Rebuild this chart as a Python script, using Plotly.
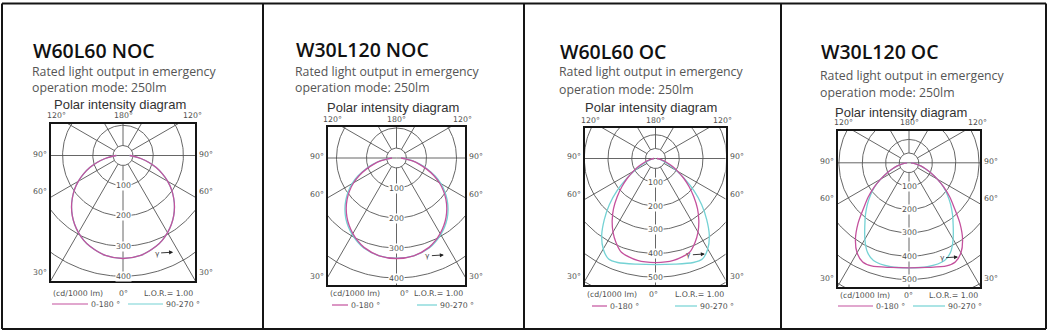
import numpy as np
import plotly.graph_objects as go

W, H = 1050, 331

# ---------------------------------------------------------------- data
# gamma angles (degrees from nadir) at which the intensities are given
GAMMA = [0, 10, 20, 25, 30, 35, 40, 45, 50, 55, 60, 65, 70, 75, 80, 85, 90]

TITLES = ["W60L60 NOC", "W30L120 NOC", "W60L60 OC", "W30L120 OC"]
SUBTITLE_1 = "Rated light output in emergency"
SUBTITLE_2 = "operation mode: 250lm"
DIAGRAM_TITLE = "Polar intensity diagram"
PLANE_LABELS = ["0-180 °", "90-270 °"]
UNIT_LABEL = "(cd/1000 lm)"
LOR_LABEL = "L.O.R.= 1.00"

# luminous intensity, cd/1000 lm, C0-C180 plane and C90-C270 plane
W60L60_NOC_C0 = [341, 336, 320, 309, 295, 279, 261, 241, 219, 196, 171, 144, 117, 89, 62, 38, 22]
W60L60_NOC_C90 = [341, 336, 320, 309, 295, 279, 261, 241, 219, 196, 171, 144, 117, 89, 62, 38, 22]

W30L120_NOC_C0 = [335, 331, 317, 305, 291, 275, 257, 237, 215, 191, 165, 136, 106, 78, 52, 30, 15]
W30L120_NOC_C90 = [334, 331, 319, 308, 295, 280, 263, 243, 221, 197, 171, 142, 111, 82, 55, 32, 16]

W60L60_OC_C0 = [438, 436, 420, 392, 358, 318, 275, 228, 185, 145, 108, 78, 52, 33, 20, 12, 6]
W60L60_OC_C90 = [447, 452, 466, 467, 440, 395, 335, 275, 212, 150, 100, 65, 40, 26, 17, 10, 6]

W30L120_OC_C0 = [450, 455, 470, 469, 445, 400, 340, 275, 228, 182, 140, 105, 75, 52, 32, 18, 8]
W30L120_OC_C90 = [450, 452, 445, 422, 378, 330, 290, 252, 215, 180, 140, 105, 74, 52, 32, 18, 8]

SERIES = [
    (W60L60_NOC_C0, W60L60_NOC_C90),
    (W30L120_NOC_C0, W30L120_NOC_C90),
    (W60L60_OC_C0, W60L60_OC_C90),
    (W30L120_OC_C0, W30L120_OC_C90),
]

RING_TICKS = [
    [100, 200, 300, 400],
    [100, 200, 300, 400],
    [100, 200, 300, 400, 500],
    [100, 200, 300, 400, 500],
]
SPOKE_STEP = 30  # degrees between radial grid lines

# ---------------------------------------------------------------- layout (pixels)
PANELS = [
    dict(box=(51, 195, 124, 281), origin=(123, 155.5), s=0.302, hub=33,
         title=(31, 50.5), sub=(30, 71, 87.5), diag=(119.5, 104.5),
         zero_x=123, bottom_y=293, legend_y=304,
         leg0=(52, 88), leg1=(128, 163), gamma_head=(166, -320)),
    dict(box=(328, 465, 127, 285), origin=(396.5, 158), s=0.300, hub=33,
         title=(294, 50), sub=(293, 71, 87.5), diag=(393, 108),
         zero_x=404, bottom_y=293.5, legend_y=305,
         leg0=(332, 348), leg1=(417, 437), gamma_head=(158, -323)),
    dict(box=(585, 725.5, 128, 285), origin=(655.5, 158.5), s=0.2375, hub=42,
         title=(558, 51.5), sub=(557, 72, 89), diag=(651, 108),
         zero_x=653, bottom_y=294, legend_y=306,
         leg0=(592, 607), leg1=(675, 697), gamma_head=(208, -402)),
    dict(box=(838, 980, 130.5, 287), origin=(909, 162.8), s=0.2335, hub=42,
         title=(819, 51.5), sub=(818, 76, 92.5), diag=(901, 112),
         zero_x=908, bottom_y=295, legend_y=306,
         leg0=(838, 873), leg1=(913, 945), gamma_head=(210, -403)),
]

C0_COLOR = "#c4519d"
C90_COLOR = "#74d2d4"
GRID_COLOR = "#555555"
LABEL_COLOR = "#505050"
SMALL_FONT = dict(family="DejaVu Sans", size=7.8, color=LABEL_COLOR)


def px(x):
    return x / W


def py(y):
    return 1 - y / H


def paper_text(x, y, text, font, xanchor="left"):
    return dict(x=px(x), y=py(y), xref="paper", yref="paper", text=text,
                showarrow=False, xanchor=xanchor, yanchor="middle", font=font)


def polar_curve(gamma, values):
    """Both halves of a C-plane: left half mirrored from the right half."""
    g = np.radians(np.array(gamma, dtype=float))
    v = np.array(values, dtype=float)
    g_full = np.concatenate([-g[::-1], g[1:]])
    v_full = np.concatenate([v[::-1], v[1:]])
    return v_full * np.sin(g_full), -v_full * np.cos(g_full)


def ring_grid(radii):
    t = np.linspace(0, 2 * np.pi, 241)
    xs, ys = [], []
    for r in radii:
        xs += list(r * np.sin(t)) + [None]
        ys += list(r * np.cos(t)) + [None]
    return xs, ys


def spoke_grid(hub, reach):
    xs, ys = [], []
    for a in range(0, 360, SPOKE_STEP):
        ar = np.radians(a)
        dx, dy = np.sin(ar), -np.cos(ar)
        start = 0 if a in (90, 270) else hub
        xs += [start * dx, reach * dx, None]
        ys += [start * dy, reach * dy, None]
    return xs, ys


fig = go.Figure()
annotations = []
shapes = []
layout_axes = {}

for i, (p, (c0, c90), ticks, title) in enumerate(zip(PANELS, SERIES, RING_TICKS, TITLES)):
    n = "" if i == 0 else str(i + 1)
    xa, ya = "x" + n, "y" + n
    x0, x1, y0, y1 = p["box"]
    ox, oy = p["origin"]
    s = p["s"]

    layout_axes["xaxis" + n] = dict(
        domain=[px(x0), px(x1)], range=[(x0 - ox) / s, (x1 - ox) / s],
        anchor=ya, showgrid=False, zeroline=False, showticklabels=False,
        ticks="", showline=True, mirror=True, linecolor="#151515", linewidth=2,
        fixedrange=True)
    layout_axes["yaxis" + n] = dict(
        domain=[py(y1), py(y0)], range=[(oy - y1) / s, (oy - y0) / s],
        anchor=xa, showgrid=False, zeroline=False, showticklabels=False,
        ticks="", showline=True, mirror=True, linecolor="#151515", linewidth=2,
        fixedrange=True)

    # polar grid: hub circle, intensity rings and radial lines
    step = ticks[1] - ticks[0]
    rx, ry = ring_grid([p["hub"]] + [step * k for k in range(1, 8)])
    fig.add_trace(go.Scatter(x=rx, y=ry, xaxis=xa, yaxis=ya, mode="lines",
                             line=dict(color=GRID_COLOR, width=0.9),
                             hoverinfo="skip", showlegend=False))
    sx, sy = spoke_grid(p["hub"], step * 10)
    fig.add_trace(go.Scatter(x=sx, y=sy, xaxis=xa, yaxis=ya, mode="lines",
                             line=dict(color=GRID_COLOR, width=0.9),
                             hoverinfo="skip", showlegend=False))

    # intensity curves
    for vals, color, name in ((c90, C90_COLOR, PLANE_LABELS[1]),
                              (c0, C0_COLOR, PLANE_LABELS[0])):
        cx, cy = polar_curve(GAMMA, vals)
        fig.add_trace(go.Scatter(x=cx, y=cy, xaxis=xa, yaxis=ya, mode="lines",
                                 line=dict(color=color, width=1.3, shape="spline",
                                           smoothing=0.8),
                                 name=name, showlegend=False))

    # ring value labels on the nadir axis
    for r in ticks:
        annotations.append(dict(x=0, y=-r, xref=xa, yref=ya, text=str(r),
                                showarrow=False, font=SMALL_FONT,
                                xanchor="center", yanchor="middle",
                                bgcolor="white", borderpad=0))

    # gamma indicator
    gx, gy = p["gamma_head"]
    annotations.append(dict(x=gx, y=gy, xref=xa, yref=ya, text="γ",
                            showarrow=True, arrowhead=2, arrowsize=0.9,
                            arrowwidth=0.9, arrowcolor="#222", ax=-16, ay=1,
                            font=dict(family="DejaVu Sans", size=7.5, color=LABEL_COLOR)))

    # angle labels round the frame
    top_y = y0 - 8
    for text, x in (("120°", x0 + 5), ("180°", ox), ("120°", x1 - 3)):
        annotations.append(paper_text(x, top_y, text, SMALL_FONT, "center"))
    for text, yy in (("90°", oy - 1.5), ("60°", oy + 36), ("30°", y1 - 9)):
        annotations.append(paper_text(x0 - 2, yy, text, SMALL_FONT, "right"))
        annotations.append(paper_text(x1 + 2, yy, text, SMALL_FONT, "left"))

    # footer: unit, nadir, L.O.R.
    by = p["bottom_y"]
    annotations.append(paper_text(x0, by, UNIT_LABEL, SMALL_FONT, "left"))
    annotations.append(paper_text(p["zero_x"], by, "0°", SMALL_FONT, "center"))
    annotations.append(paper_text(x1, by, LOR_LABEL, SMALL_FONT, "right"))

    # plane key
    ly = p["legend_y"]
    for (lx0, lx1), color, text in ((p["leg0"], C0_COLOR, PLANE_LABELS[0]),
                                    (p["leg1"], C90_COLOR, PLANE_LABELS[1])):
        shapes.append(dict(type="line", xref="paper", yref="paper",
                           x0=px(lx0), x1=px(lx1), y0=py(ly), y1=py(ly),
                           line=dict(color=color, width=1.2)))
        annotations.append(paper_text(lx1 + 0.5, ly, text, SMALL_FONT, "left"))

    # headings
    tx, ty = p["title"]
    annotations.append(paper_text(tx, ty, title,
                                  dict(family="Open Sans", size=19.5, weight=600,
                                       color="#111111")))
    sxp, s1, s2 = p["sub"]
    for text, yy in ((SUBTITLE_1, s1), (SUBTITLE_2, s2)):
        annotations.append(paper_text(sxp, yy, text,
                                      dict(family="Open Sans", size=12.3,
                                           color="#555555")))
    dx_, dy_ = p["diag"]
    annotations.append(paper_text(dx_, dy_, DIAGRAM_TITLE,
                                  dict(family="Liberation Sans", size=13,
                                       color="#333333"), "center"))

# table rules
TABLE_LINE = dict(color="#151515", width=2)
for x in (2, 263, 524, 781, 1046):
    shapes.append(dict(type="line", xref="paper", yref="paper", x0=px(x), x1=px(x),
                       y0=py(3.5), y1=py(329), line=TABLE_LINE))
for y in (3.5, 329):
    shapes.append(dict(type="line", xref="paper", yref="paper", x0=px(2), x1=px(1046),
                       y0=py(y), y1=py(y), line=TABLE_LINE))

fig.update_layout(
    width=W, height=H, autosize=False,
    margin=dict(l=0, r=0, t=0, b=0, pad=0),
    paper_bgcolor="white", plot_bgcolor="white",
    showlegend=False,
    annotations=annotations, shapes=shapes,
    **layout_axes,
)

fig.write_html("out.html", config=dict(displayModeBar=False))
